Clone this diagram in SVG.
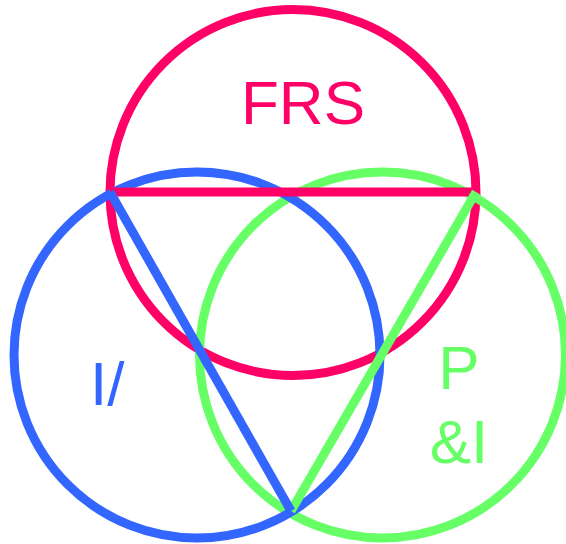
<svg xmlns="http://www.w3.org/2000/svg" width="566" height="544" viewBox="0 0 566 544">
<style>
.c{fill:none;stroke-width:9}
.l{stroke-width:9;fill:none}
.t{font-family:"Liberation Sans",Arial,sans-serif;font-size:62px}
</style>
<rect width="566" height="544" fill="#ffffff"/>
<g id="frs">
<circle class="c" cx="293" cy="192.5" r="183" stroke="#ff0066"/>
<text class="t" x="303" y="124" text-anchor="middle" fill="#ff0066">FRS</text>
</g>
<g id="pi">
<circle class="c" cx="382.5" cy="355" r="183" stroke="#66ff66"/>
<text class="t" x="459" y="389" text-anchor="middle" fill="#66ff66">P</text>
<text class="t" x="459" y="463" text-anchor="middle" fill="#66ff66">&amp;I</text>
</g>
<g id="i">
<circle class="c" cx="197" cy="355" r="183" stroke="#3366ff"/>
<text class="t" x="90" y="405" fill="#3366ff">I/</text>
</g>
<g id="connectors">
<line class="l" x1="110" y1="192" x2="476" y2="192" stroke="#ff0066"/>
<line class="l" x1="476" y1="192" x2="291" y2="511" stroke="#66ff66"/>
<line class="l" x1="110" y1="192" x2="291" y2="511" stroke="#3366ff"/>
</g>
</svg>
